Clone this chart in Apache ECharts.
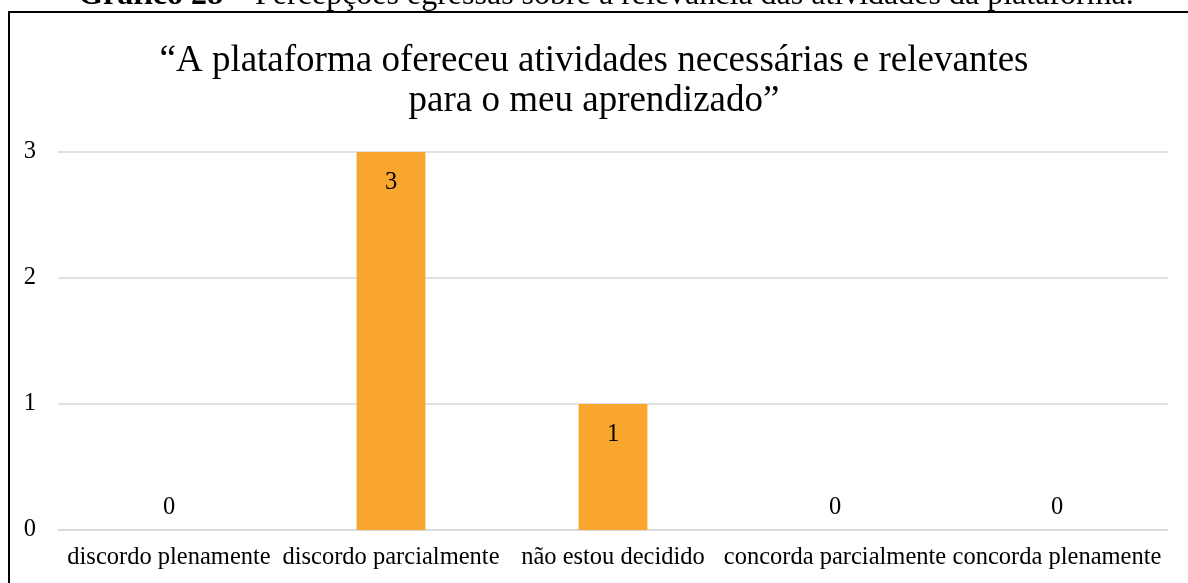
<!DOCTYPE html>
<html>
<head>
<meta charset="utf-8">
<script src="https://cdn.jsdelivr.net/npm/echarts@6/dist/echarts.min.js"></script>
<style>
  html, body { margin: 0; padding: 0; background: #fff; }
  #chart { width: 1188px; height: 583px; }
</style>
</head>
<body>
<div id="chart"></div>
<script>
const categories = ['discordo plenamente', 'discordo parcialmente', 'não estou decidido', 'concorda parcialmente', 'concorda plenamente']
const counts = [0, 3, 1, 0, 0]
const yTicks = [0, 1, 2, 3]

const serif = '"Liberation Serif", "DejaVu Serif", serif'
const barColor = '#F9A62E'
const labelSize = 24.5

const chart = echarts.init(document.getElementById('chart'))

chart.setOption({
  backgroundColor: '#fff',
  textStyle: { fontFamily: serif, color: '#000' },
  title: {
    text: '“A plataforma ofereceu atividades necessárias e relevantes\npara o meu aprendizado”',
    left: 'center',
    top: 36,
    textStyle: { fontFamily: serif, fontSize: 37, fontWeight: 'normal', color: '#000', lineHeight: 40 },
  },
  graphic: [
    {
      type: 'text',
      x: 606,
      y: 12,
      style: {
        text: '{b|Gráfico 28} – Percepções egressas sobre a relevância das atividades da plataforma.',
        fontFamily: serif,
        fontSize: 32,
        fill: '#000',
        align: 'center',
        verticalAlign: 'bottom',
        rich: { b: { fontWeight: 'bold', fontFamily: serif, fontSize: 32 } },
      },
    },
    {
      type: 'rect',
      shape: { x: 9, y: 12, width: 1300, height: 700 },
      style: { fill: 'none', stroke: '#000', lineWidth: 2 },
      silent: true,
    },
  ],
  grid: { left: 58, right: 20, top: 152, bottom: 53 },
  xAxis: {
    type: 'category',
    data: categories,
    axisLine: { show: true, lineStyle: { color: '#d9d9d9', width: 1.5 } },
    axisTick: { show: false },
    axisLabel: { color: '#000', fontSize: labelSize, fontFamily: serif, margin: 15, interval: 0 },
  },
  yAxis: {
    type: 'value',
    min: yTicks[0],
    max: yTicks[yTicks.length - 1],
    interval: 1,
    axisLine: { show: false },
    axisTick: { show: false },
    splitLine: { lineStyle: { color: '#d9d9d9', width: 1.5 } },
    axisLabel: { color: '#000', fontSize: labelSize, fontFamily: serif, margin: 22 },
  },
  series: [
    {
      type: 'bar',
      barWidth: '31%',
      itemStyle: { color: barColor },
      label: {
        show: true,
        position: 'insideTop',
        distance: 18,
        color: '#000',
        fontSize: labelSize,
        fontFamily: serif,
      },
      data: counts.map((v) => ({
        value: v,
        label: v === 0 ? { position: 'top', distance: 10 } : {},
      })),
    },
  ],
})
</script>
</body>
</html>
